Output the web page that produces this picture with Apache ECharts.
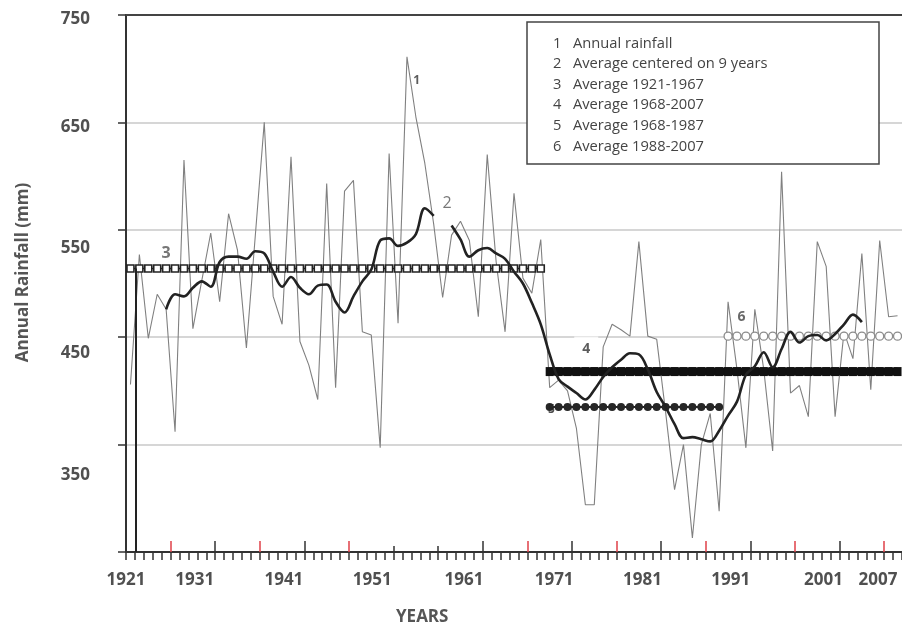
<!DOCTYPE html>
<html><head><meta charset="utf-8">
<script src="https://cdn.jsdelivr.net/npm/echarts@6/dist/echarts.min.js"></script>
<style>html,body{margin:0;padding:0;background:#fff}#c{width:902px;height:632px}</style>
</head><body><div id="c"></div>
<script>
// ---------- data ----------
const years = [1921,1922,1923,1924,1925,1926,1927,1928,1929,1930,
  1931,1932,1933,1934,1935,1936,1937,1938,1939,1940,
  1941,1942,1943,1944,1945,1946,1947,1948,1949,1950,
  1951,1952,1953,1954,1955,1956,1957,1958,1959,1960,
  1961,1962,1963,1964,1965,1966,1967,1968,1969,1970,
  1971,1972,1973,1974,1975,1976,1977,1978,1979,1980,
  1981,1982,1983,1984,1985,1986,1987,1988,1989,1990,
  1991,1992,1993,1994,1995,1996,1997,1998,1999,2000,
  2001,2002,2003,2004,2005,2006,2007];
const annualRainfall = [406,527,449,490,476,362,615,458,503,547,
  483,565,531,440,545,650,488,462,618,446,
  424,392,593,403,586,596,455,452,347,621,
  463,711,655,612,555,487,545,558,540,469,
  620,520,455,584,505,491,541,403,410,400,
  365,294,294,441,462,457,451,539,451,448,
  380,308,350,263,350,379,288,483,420,347,
  476,420,344,604,398,405,376,539,516,376,
  455,430,528,401,540,469,470];
// 9-year centred average, 1925-2003 (null where the curve is broken)
const avg9Years = [1925,1926,1927,1928,1929,1930,1931,1932,1933,1934,
  1935,1936,1937,1938,1939,1940,1941,1942,1943,1944,
  1945,1946,1947,1948,1949,1950,1951,1952,1953,1954,
  1955,1956,1957,1958,1959,1960,1961,1962,1963,1964,
  1965,1966,1967,1968,1969,1970,1971,1972,1973,1974,
  1975,1976,1977,1978,1979,1980,1981,1982,1983,1984,
  1985,1986,1987,1988,1989,1990,1991,1992,1993,1994,
  1995,1996,1997,1998,1999,2000,2001,2002,2003];
const avg9Values = [476,490,488,496,502,497,520,525,525,523,
  530,528,511,497,506,496,490,498,499,483,
  473,488,502,513,540,542,535,538,546,570,
  563,null,554,541,525,531,533,528,523,511,
  500,482,462,434,411,404,398,392,401,413,
  422,429,435,434,420,399,385,369,356,357,
  355,353,363,377,390,415,423,436,422,439,
  455,445,451,452,447,453,462,471,464];
// period averages
const seriesNames = ['Annual rainfall','Average centered on 9 years','Average 1921-1967',
  'Average 1968-2007','Average 1968-1987','Average 1988-2007'];
const periodStart = [1921, 1968, 1968, 1988];
const periodEnd   = [1967, 2007, 1987, 2007];
const periodMean  = [514, 418, 385, 451];
const dropLineYear = 1921.6;
// axis labels / ticks
const yLabelText = ['750','650','550','450','350'];
const yLabelPos  = [746.3, 645.3, 532.8, 435, 322];
const xLabelText = ['1921','1931','1941','1951','1961','1971','1981','1991','2001','2007'];
const xLabelPos  = [1920.5, 1928.2, 1938.2, 1948.1, 1958.4, 1968.5, 1978.4, 1988.3, 1998.7, 2004.8];
const redTickPos = [1925.5,1935.5,1945.5,1965.5,1975.5,1985.5,1995.5,2005.5];
const blackTickPos = [1930.5,1940.5,1960.5,1970.5,1980.5,1990.5,2000.5];
const shortTickPos = [1950.5,1955.5];
// curve annotations
const annoText  = ['1','2','3','4','5','6'];
const annoYear  = [1953.1, 1956.5, 1925.0, 1972.1, 1968.2, 1989.5];
const annoValue = [689, 575, 528, 439, 383, 469];

// ---------- chart ----------
const FONT = 'Open Sans';
const minorTicks = years.map(y => y - 0.5).concat([years[years.length-1] + 0.5]);
const xMin = years[0] - 0.5, xMax = years[years.length-1] + 0.5;
const lookup = (pos, txt) => v => { const i = pos.findIndex(p => Math.abs(p - v) < 1e-6); return i >= 0 ? txt[i] : ''; };
const periodData = k => years.filter(y => y >= periodStart[k] && y <= periodEnd[k]).map(y => [y, periodMean[k]]);

const overlayAxis = (vals, len, color, pos) => ({
  type: 'value', min: xMin, max: xMax, position: pos || 'bottom',
  axisLine: { show: false }, axisLabel: { show: false }, splitLine: { show: false },
  axisTick: { show: true, customValues: vals, inside: true, length: len, lineStyle: { color: color, width: 1.5 } }
});

const annoStyles = [
  { fontSize: 12, fontWeight: 'bold', color: '#333' },
  { fontSize: 16, color: '#555' },
  { fontSize: 16, fontWeight: 'bold', color: '#555' },
  { fontSize: 14, fontWeight: 'bold', color: '#333', backgroundColor: '#fff', padding: [9, 8, 2, 8] },
  { fontSize: 12, fontWeight: 'bold', color: '#222' },
  { fontSize: 14, fontWeight: 'bold', color: '#444' }
];

const option = {
  animation: false,
  backgroundColor: '#fff',
  textStyle: { fontFamily: FONT },
  grid: { left: 126, right: -7, top: 15, bottom: 80 },
  title: {
    text: 'YEARS', left: 396, top: 609, padding: 0,
    textStyle: { fontFamily: FONT, fontSize: 17, fontWeight: 'bold', color: '#555' }
  },
  legend: {
    orient: 'vertical', left: 527, top: 22, padding: [14, 16, 10, 20],
    itemWidth: 0, itemHeight: 0, itemGap: 5.6, selectedMode: false,
    borderColor: '#444', borderWidth: 1.5, backgroundColor: '#fff',
    itemStyle: { opacity: 0, borderWidth: 0 }, lineStyle: { opacity: 0, width: 0 },
    data: seriesNames,
    formatter: name => '{n|' + (seriesNames.indexOf(name) + 1) + '}{t|' + name + '}',
    textStyle: {
      rich: {
        n: { width: 20, fontFamily: FONT, fontSize: 14.7, color: '#444', lineHeight: 14 },
        t: { width: 290, fontFamily: FONT, fontSize: 14.7, color: '#444', lineHeight: 14 }
      }
    }
  },
  xAxis: [
    {
      type: 'value', min: xMin, max: xMax, position: 'bottom',
      axisLine: { lineStyle: { color: '#333', width: 2 } },
      axisTick: { customValues: minorTicks, length: 8, lineStyle: { color: '#333', width: 1.5 } },
      axisLabel: { customValues: xLabelPos, formatter: lookup(xLabelPos, xLabelText), margin: 20,
        fontFamily: FONT, fontSize: 17, fontWeight: 'bold', color: '#505050' },
      splitLine: { show: false }
    },
    overlayAxis(redTickPos, 11, '#e0424a'),
    overlayAxis(blackTickPos, 11, '#333'),
    overlayAxis(shortTickPos, 6, '#333'),
    {
      type: 'value', min: xMin, max: xMax, position: 'top',
      axisLine: { lineStyle: { color: '#444', width: 2 } },
      axisTick: { show: false }, axisLabel: { show: false }, splitLine: { show: false }
    }
  ],
  yAxis: {
    type: 'value', min: 250, max: 750, interval: 100,
    name: 'Annual Rainfall (mm)', nameLocation: 'middle', nameGap: 94, nameRotate: 90,
    nameTextStyle: { fontFamily: FONT, fontSize: 17, fontWeight: 'bold', color: '#555', padding: [0, 0, 0, 22] },
    axisLine: { show: true, lineStyle: { color: '#333', width: 2 } },
    axisTick: { show: true, length: 8, lineStyle: { color: '#333', width: 1.5 } },
    axisLabel: { customValues: yLabelPos, formatter: lookup(yLabelPos, yLabelText), margin: 36,
      fontFamily: FONT, fontSize: 17, fontWeight: 'bold', color: '#505050' },
    splitLine: { lineStyle: { color: '#c8c8c8', width: 1.5 } }
  },
  series: [
    {
      name: seriesNames[0], type: 'line', z: 2,
      data: years.map((y, i) => [y, annualRainfall[i]]),
      showSymbol: false, lineStyle: { color: '#808080', width: 1.1 }
    },
    {
      name: seriesNames[2], type: 'line', z: 4,
      data: periodData(0), showAllSymbol: true,
      symbol: 'rect', symbolSize: [7, 7],
      itemStyle: { color: '#fff', borderColor: '#222', borderWidth: 1.6 },
      lineStyle: { color: '#222', width: 1.6 },
      markLine: {
        silent: true, symbol: ['none', 'none'], label: { show: false },
        lineStyle: { color: '#222', width: 2, type: 'solid' },
        data: [[{ coord: [dropLineYear, 250] }, { coord: [dropLineYear, periodMean[0]] }]]
      }
    },
    {
      name: seriesNames[3], type: 'line', z: 4,
      data: periodData(1), showAllSymbol: true,
      symbol: 'rect', symbolSize: [8, 9],
      itemStyle: { color: '#111' },
      lineStyle: { color: '#111', width: 8 }
    },
    {
      name: seriesNames[4], type: 'line', z: 4,
      data: periodData(2), showAllSymbol: true,
      symbol: 'circle', symbolSize: 8,
      itemStyle: { color: '#262626' },
      lineStyle: { color: '#262626', width: 2 }
    },
    {
      name: seriesNames[5], type: 'line', z: 4,
      data: periodData(3), showAllSymbol: true,
      symbol: 'circle', symbolSize: 8,
      itemStyle: { color: '#fff', borderColor: '#8c8c8c', borderWidth: 1.3 },
      lineStyle: { color: '#8c8c8c', width: 1.3 }
    },
    {
      name: seriesNames[1], type: 'line', z: 6,
      data: avg9Years.map((y, i) => [y, avg9Values[i]]),
      smooth: 0.35, connectNulls: false, showSymbol: false,
      lineStyle: { color: '#222', width: 2.6 }
    },
    {
      name: 'labels', type: 'scatter', z: 8, silent: true,
      symbolSize: 1, itemStyle: { color: 'rgba(0,0,0,0)' },
      data: annoText.map((t, i) => ({
        value: [annoYear[i], annoValue[i]], name: t,
        label: Object.assign({ show: true, position: 'inside', formatter: t, fontFamily: FONT }, annoStyles[i])
      }))
    }
  ]
};
const chart = echarts.init(document.getElementById('c'), null, { renderer: 'canvas' });
chart.setOption(option);
</script></body></html>
